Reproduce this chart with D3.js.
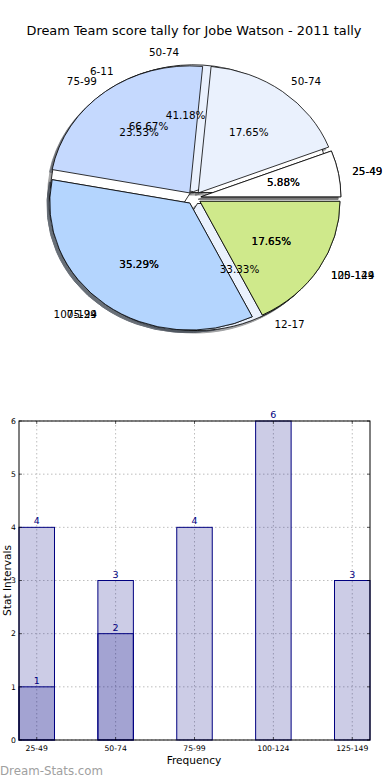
<!DOCTYPE html>
<html>
<head>
<meta charset="utf-8">
<script src="https://cdn.jsdelivr.net/npm/d3@7"></script>
<style>
  body{margin:0;background:#fff;}
  svg{display:block;font-family:"DejaVu Sans",sans-serif;}
</style>
</head>
<body>
<svg id="chart" width="390" height="780"></svg>
<script>
// pie layers, drawn bottom to top
var pieLabelsB=['6-11','12-17'];
var pieValuesB=[2,1];
var pieLabelsC=['25-49','50-74','75-99','100-124'];
var pieValuesC=[1,7,6,3];
var pieLabelsA=['25-49','50-74','75-99','100-124','125-149'];
var pieValuesA=[1,3,4,6,3];
var pieColors=['#ffffff','#eaf1fd','#c5d9fe','#b4d5fe','#cfe98b'];

// bar chart
var categories=['25-49','50-74','75-99','100-124','125-149'];
var totals=[4,3,4,6,3];
var darkCats=['25-49','50-74'];
var darkValues=[1,2];
var yTicks=[0,1,2,3,4,5,6];

var svg=d3.select('#chart');
svg.append('rect').attr('width',390).attr('height',780).attr('fill','#fff');

svg.append('text')
  .attr('x',194).attr('y',35)
  .attr('text-anchor','middle')
  .style('font-size','12.9px')
  .text('Dream Team score tally for Jobe Watson - 2011 tally');

// ---- pie ----
var cx=194, cy=198, rx=140, ry=127, expl=0.05;
var pie=d3.pie().sort(null).value(function(d){return d;})
  .startAngle(Math.PI/2).endAngle(Math.PI/2-2*Math.PI);
var unitArc=d3.arc().innerRadius(0).outerRadius(1);

var layers=[
  {labels:pieLabelsB,values:pieValuesB},
  {labels:pieLabelsC,values:pieValuesC},
  {labels:pieLabelsA,values:pieValuesA}
];
layers.forEach(function(l){
  var total=d3.sum(l.values);
  l.arcs=pie(l.values).map(function(a,i){
    var m=(a.startAngle+a.endAngle)/2;
    return {arc:a,label:l.labels[i],color:pieColors[i],
      sx:Math.sin(m),sy:-Math.cos(m),pct:a.value/total*100};
  });
});

var shadowG=svg.append('g');
var wedgeG=svg.append('g');
var textG=svg.append('g').style('font-size','10.4px');

layers.forEach(function(l){
  l.arcs.forEach(function(w){
    var ox=cx+expl*rx*w.sx, oy=cy+expl*ry*w.sy;
    var dark=d3.color(w.color);
    dark.r*=0.3;dark.g*=0.3;dark.b*=0.3;
    shadowG.append('path')
      .attr('d',unitArc(w.arc))
      .attr('transform','translate('+(ox-0.02*rx)+','+(oy+0.02*ry)+') scale('+rx+','+ry+')')
      .attr('fill',dark.formatHex())
      .attr('stroke',dark.formatHex())
      .attr('vector-effect','non-scaling-stroke')
      .attr('opacity',0.5);
  });
});
layers.forEach(function(l){
  l.arcs.forEach(function(w){
    var ox=cx+expl*rx*w.sx, oy=cy+expl*ry*w.sy;
    wedgeG.append('path')
      .attr('d',unitArc(w.arc))
      .attr('transform','translate('+ox+','+oy+') scale('+rx+','+ry+')')
      .attr('fill',w.color)
      .attr('stroke','#000')
      .attr('stroke-width',0.8)
      .attr('vector-effect','non-scaling-stroke');
  });
});
layers.forEach(function(l){
  l.arcs.forEach(function(w){
    var lx=cx+(1.1+expl)*rx*w.sx, ly=cy+(1.1+expl)*ry*w.sy;
    textG.append('text')
      .attr('x',lx).attr('y',ly)
      .attr('dy','0.35em')
      .attr('text-anchor',w.sx>0?'start':'end')
      .text(w.label);
    textG.append('text')
      .attr('x',cx+(0.6+expl)*rx*w.sx).attr('y',cy+(0.6+expl)*ry*w.sy)
      .attr('dy','0.35em')
      .attr('text-anchor','middle')
      .text(d3.format('.2f')(w.pct)+'%');
  });
});

// ---- bars ----
var axLeft=19,axRight=370,axTop=421,axBottom=740;
var x=d3.scaleLinear().domain([-0.225,categories.length-1+0.225]).range([axLeft,axRight]);
var y=d3.scaleLinear().domain([0,6]).range([axBottom,axTop]);
var barW=x(0.45)-x(0);
var idx=function(c){return categories.indexOf(c);};

var gridG=svg.append('g').attr('stroke','#bdbdbd').attr('stroke-dasharray','1.5,2.5');
yTicks.forEach(function(t){
  gridG.append('line').attr('x1',axLeft).attr('x2',axRight).attr('y1',y(t)).attr('y2',y(t));
});
categories.forEach(function(c,i){
  gridG.append('line').attr('x1',x(i)).attr('x2',x(i)).attr('y1',axTop).attr('y2',axBottom);
});

var barG=svg.append('g');
barG.selectAll('.tot').data(totals).enter().append('rect')
  .attr('x',function(d,i){return x(i)-barW/2;})
  .attr('y',function(d){return y(d);})
  .attr('width',barW)
  .attr('height',function(d){return y(0)-y(d);})
  .attr('fill','rgba(0,0,128,0.2)')
  .attr('stroke','#000080').attr('stroke-width',1);
barG.selectAll('.dk').data(darkValues).enter().append('rect')
  .attr('x',function(d,i){return x(idx(darkCats[i]))-barW/2;})
  .attr('y',function(d){return y(d);})
  .attr('width',barW)
  .attr('height',function(d){return y(0)-y(d);})
  .attr('fill','rgba(0,0,128,0.2)')
  .attr('stroke','#000080').attr('stroke-width',1);

var valG=svg.append('g').attr('fill','#000080').attr('text-anchor','middle').style('font-size','9.5px');
totals.forEach(function(v,i){
  valG.append('text').attr('x',x(i)).attr('y',y(v)-3).text(v);
});
darkValues.forEach(function(v,i){
  valG.append('text').attr('x',x(idx(darkCats[i]))).attr('y',y(v)-3).text(v);
});

// frame and ticks
svg.append('rect').attr('x',axLeft).attr('y',axTop).attr('width',axRight-axLeft).attr('height',axBottom-axTop)
  .attr('fill','none').attr('stroke','#000').attr('stroke-width',1);
var tickG=svg.append('g').attr('stroke','#000').attr('stroke-width',0.6);
yTicks.forEach(function(t){
  tickG.append('line').attr('x1',axLeft).attr('x2',axLeft+3).attr('y1',y(t)).attr('y2',y(t));
  tickG.append('line').attr('x1',axRight).attr('x2',axRight-3).attr('y1',y(t)).attr('y2',y(t));
});
categories.forEach(function(c,i){
  tickG.append('line').attr('x1',x(i)).attr('x2',x(i)).attr('y1',axBottom).attr('y2',axBottom-3);
  tickG.append('line').attr('x1',x(i)).attr('x2',x(i)).attr('y1',axTop).attr('y2',axTop+3);
});

var axG=svg.append('g').style('font-size','7.7px');
yTicks.forEach(function(t){
  axG.append('text').attr('x',axLeft-3).attr('y',y(t)).attr('dy','0.35em')
    .attr('text-anchor','end').text(t);
});
categories.forEach(function(c,i){
  axG.append('text').attr('x',x(i)).attr('y',axBottom+11)
    .attr('text-anchor','middle').text(c);
});

svg.append('text').attr('x',194).attr('y',764).attr('text-anchor','middle')
  .style('font-size','10.6px').text('Frequency');
svg.append('text').attr('transform','translate(7,'+((axTop+axBottom)/2)+') rotate(-90)')
  .attr('dy','0.35em').attr('text-anchor','middle')
  .style('font-size','10.6px').text('Stat Intervals');

svg.append('text').attr('x',0).attr('y',775)
  .attr('fill','#a0a0a0').style('font-size','11.8px')
  .text('Dream-Stats.com');
</script>
</body>
</html>
